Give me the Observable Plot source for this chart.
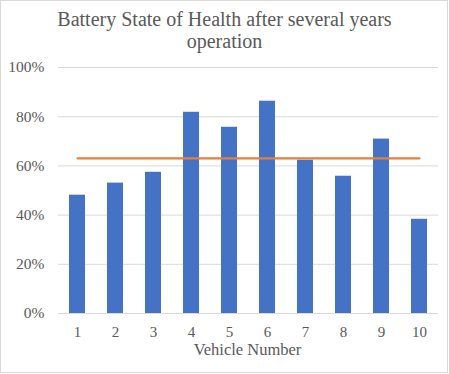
<!DOCTYPE html>
<html>
<head>
<meta charset="utf-8">
<script src="https://cdn.jsdelivr.net/npm/d3@7"></script>
<script src="https://cdn.jsdelivr.net/npm/@observablehq/plot@0.6"></script>
<style>
  html, body { margin: 0; padding: 0; background: #fff; }
  #wrap { position: relative; width: 449px; height: 374px; overflow: hidden; }
  #border { position: absolute; left: 0; top: 0; width: 448px; height: 373px; box-sizing: border-box; border: 1px solid #d9d9d9; pointer-events: none; }
  #title { position: absolute; left: 0; top: 8px; width: 449px; text-align: center; font-family: "Liberation Serif", "DejaVu Serif", serif; font-size: 20px; line-height: 22px; color: #595959; }
  #chart { position: absolute; left: 0; top: 0; }
</style>
</head>
<body>
<div id="wrap">
  <div id="chart"></div>
  <div id="title">Battery State of Health after several years<br>operation</div>
  <div id="border"></div>
</div>
<script>
const vehicles = [1, 2, 3, 4, 5, 6, 7, 8, 9, 10];
const stateOfHealth = [48.1, 53.0, 57.4, 81.8, 75.7, 86.3, 62.3, 55.8, 70.9, 38.3];
const averageSoH = 63.1;
const yTicks = [0, 20, 40, 60, 80, 100];
const xLabel = "Vehicle Number";

const bars = vehicles.map((v, i) => ({vehicle: v, soh: stateOfHealth[i]}));
const avgLine = vehicles.map(v => ({vehicle: v, soh: averageSoH}));

const plot = Plot.plot({
  width: 449,
  height: 374,
  marginLeft: 58,
  marginRight: 11,
  marginTop: 67,
  marginBottom: 61,
  style: {fontFamily: "'Liberation Serif', 'DejaVu Serif', serif", fontSize: "15px", color: "#595959", background: "transparent"},
  x: {type: "band", domain: vehicles, paddingInner: 0.58, paddingOuter: 0.29, label: null},
  y: {domain: [0, 100], label: null},
  marks: [
    Plot.gridY(yTicks, {stroke: "#d9d9d9", strokeOpacity: 1, strokeWidth: 1}),
    Plot.barY(bars, {x: "vehicle", y: "soh", fill: "#4472C4"}),
    Plot.line(avgLine, {x: "vehicle", y: "soh", stroke: "#ED7D31", strokeWidth: 2.25}),
    Plot.axisY(yTicks, {tickSize: 0, tickPadding: 14, tickFormat: d => d + "%", label: null, fill: "#595959", fontSize: 15.5}),
    Plot.axisX(vehicles, {tickSize: 0, tickPadding: 13, label: null, fill: "#595959", fontSize: 15}),
    Plot.text([xLabel], {frameAnchor: "bottom", dy: 41, dx: -1, text: d => d, fill: "#595959", fontSize: 16.5})
  ]
});
document.getElementById("chart").appendChild(plot);
</script>
</body>
</html>
